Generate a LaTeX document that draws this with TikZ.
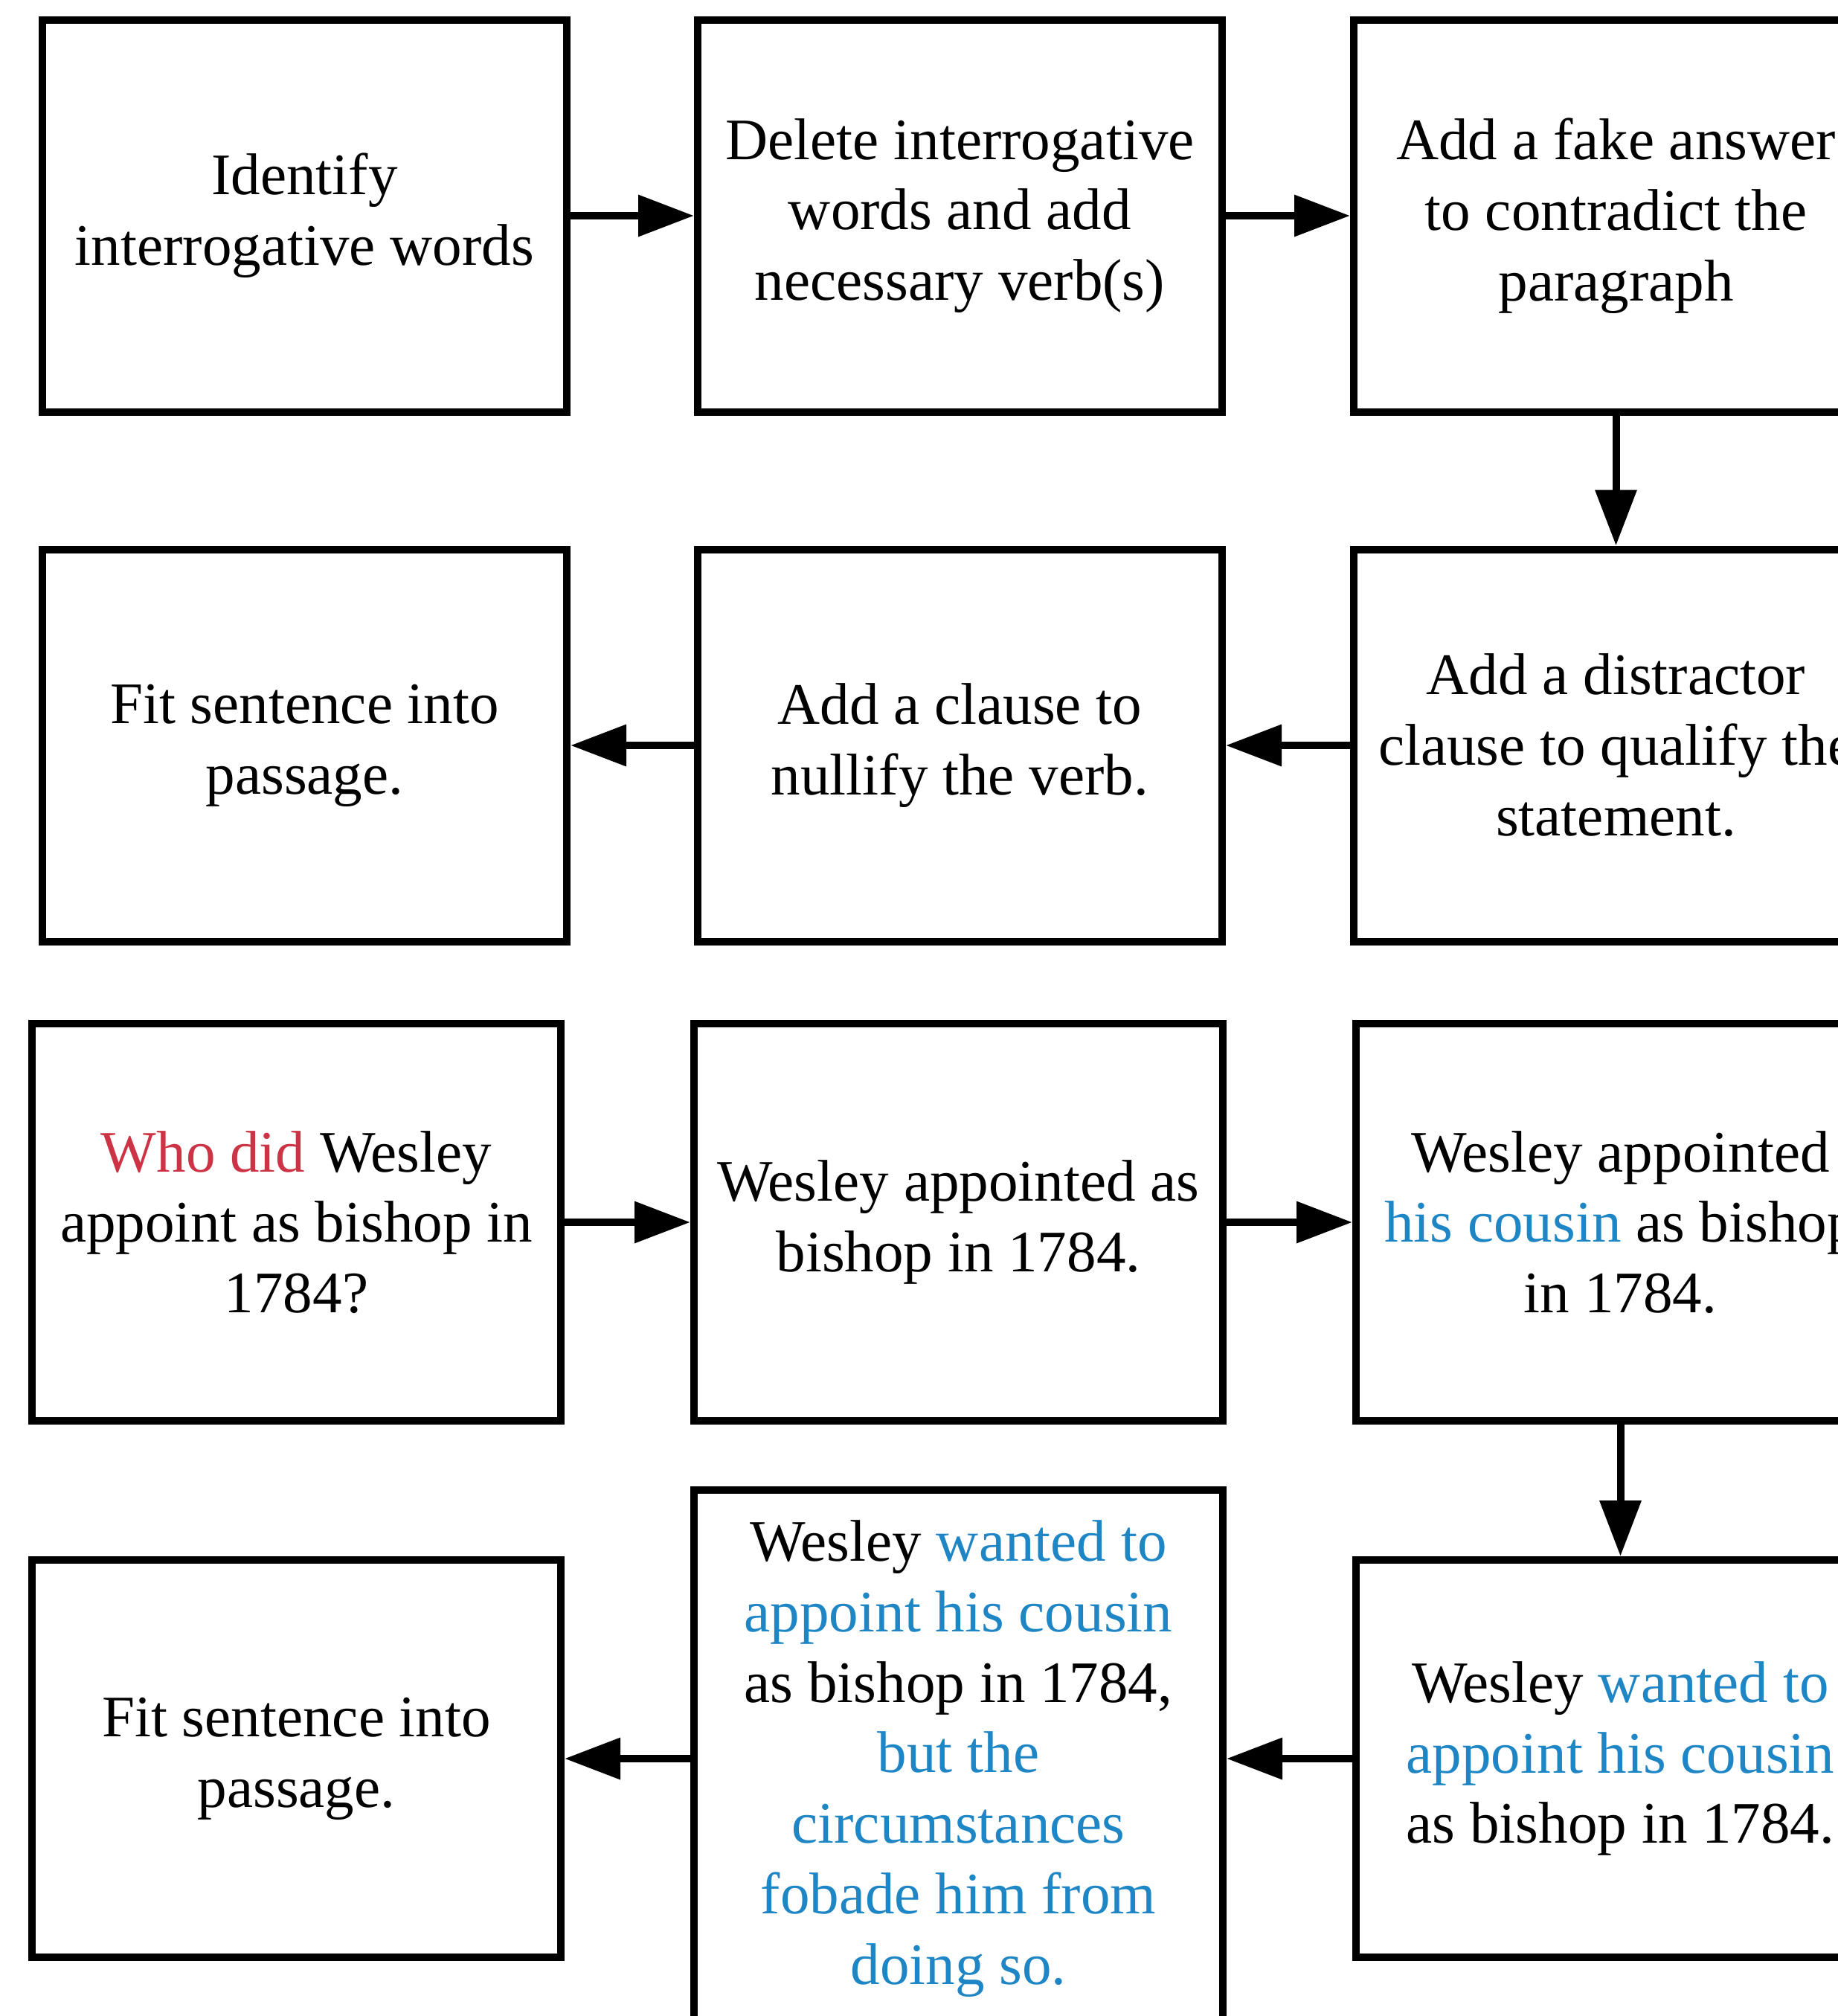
\documentclass[tikz,border=0pt]{standalone}
\usepackage{fontspec}
\setmainfont{Liberation Serif}
\usetikzlibrary{positioning, arrows.meta}
\definecolor{qred}{HTML}{CC3344}
\definecolor{qblue}{HTML}{1F86C6}
\newcommand{\qword}[1]{\textcolor{qred}{#1}}
\newcommand{\addword}[1]{\textcolor{qblue}{#1}}

\begin{document}
\begin{tikzpicture}[
    block/.style={draw, line width=0.1cm, minimum width=7.05cm, minimum height=5.27cm, align=center, font=\fontsize{22.5}{27}\selectfont},
    sample/.style={block, minimum width=7.11cm, minimum height=5.34cm},
    arr/.style={-{Triangle[length=0.75cm, width=0.54cm]}, line width=0.1cm}
]
\path[use as bounding box, clip] (0,0) rectangle (24.71,-27.10);

% Steps
\node[block] (ident) at (4.095,-2.90) {Identify\\interrogative words};
\node[block, right=1.66cm of ident] (delete) {Delete interrogative\\words and add\\necessary verb(s)};
\node[block, right=1.67cm of delete] (fake) {Add a fake answer\\to contradict the\\paragraph};
\node[block, below=1.75cm of fake] (distract) {Add a distractor\\clause to qualify the\\statement.};
\node[block, left=1.67cm of distract] (nullify) {Add a clause to\\nullify the verb.};
\node[block, left=1.66cm of nullify] (fit) {Fit sentence into\\passage.};

% Example
\node[sample] (who) at (3.985,-16.43) {\qword{Who did} Wesley\\appoint as bishop in\\1784?};
\node[sample, right=1.69cm of who] (stmt) {Wesley appointed as\\bishop in 1784.};
\node[sample, right=1.69cm of stmt] (cousin) {Wesley appointed\\\addword{his cousin} as bishop\\in 1784.};
\node[sample, below=1.77cm of cousin] (wanted) {Wesley \addword{wanted to}\\\addword{appoint his cousin}\\as bishop in 1784.};
\node[sample, left=1.69cm of wanted, minimum height=7.22cm] (forbade) {Wesley \addword{wanted to}\\\addword{appoint his cousin}\\as bishop in 1784,\\\addword{but the}\\\addword{circumstances}\\\addword{fobade him from}\\\addword{doing so.}};
\node[sample, left=1.69cm of forbade] (fit2) {Fit sentence into\\passage.};

% Arrows
\draw[arr] (ident) -- (delete);
\draw[arr] (delete) -- (fake);
\draw[arr] (fake) -- (distract);
\draw[arr] (distract) -- (nullify);
\draw[arr] (nullify) -- (fit);
\draw[arr] (who) -- (stmt);
\draw[arr] (stmt) -- (cousin);
\draw[arr] (cousin) -- (wanted);
\draw[arr] (wanted) -- (forbade);
\draw[arr] (forbade) -- (fit2);

\end{tikzpicture}
\end{document}
